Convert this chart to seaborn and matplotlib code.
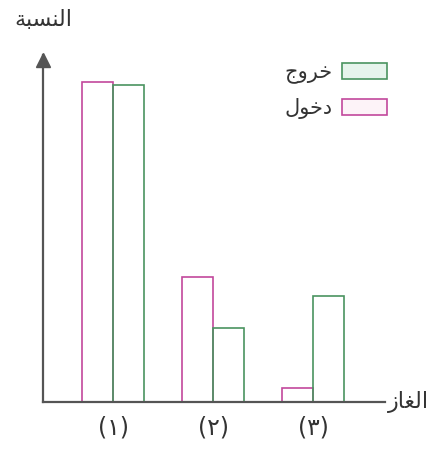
import pandas as pd
import seaborn as sns
import matplotlib.pyplot as plt

# Arabic labels written in presentation forms (matplotlib does no shaping), visual order
y_label = "\uFE94\uFE92\uFEB4\uFEE8\uFEDF\uFE8D"      # النسبة
x_label = "\uFEAF\uFE8E\uFED0\uFEDF\uFE8D"            # الغاز
series_in = "\uFEDD\uFEEE\uFEA7\uFEA9"               # دخول
series_out = "\uFE9D\uFEED\uFEAE\uFEA7"              # خروج

gases = ["(\u0661)", "(\u0662)", "(\u0663)"]
entering = [100, 39, 4.5]
leaving = [99, 23, 33]

df = pd.DataFrame({
    "gas": gases * 2,
    "value": entering + leaving,
    "series": [series_in] * 3 + [series_out] * 3,
})

magenta = "#c2489c"
green = "#4a9460"

sns.set_style("white")
plt.rcParams["font.family"] = ["DejaVu Sans"]

fig = plt.figure(figsize=(4.41, 4.57), dpi=100)
ax = fig.add_axes([43 / 441, 55 / 457, 342 / 441, 347 / 457])

sns.barplot(
    data=df, x="gas", y="value", hue="series",
    order=gases, hue_order=[series_in, series_out],
    palette=[magenta, green], fill=False, width=0.62, gap=0,
    linewidth=1.2, ax=ax, legend=True,
)

ax.set_xlim(-0.70, 2.72)
ax.set_ylim(0, 108.4)
ax.set_xlabel("")
ax.set_ylabel("")
ax.set_yticks([])
ax.tick_params(axis="x", length=0, labelsize=17, pad=10, colors="#333333")

for side in ["top", "right"]:
    ax.spines[side].set_visible(False)
for side in ["left", "bottom"]:
    ax.spines[side].set_color("#555555")
    ax.spines[side].set_linewidth(1.6)

# arrow head on the y axis
ax.plot(0, 0.985, marker="^", markersize=10, color="#555555",
        transform=ax.transAxes, clip_on=False)

ax.text(1.01, 0, x_label, transform=ax.transAxes, ha="left", va="center",
        fontsize=16, color="#333333")
fig.text(43 / 441, 1 - 20 / 457, y_label, ha="center", va="center",
         fontsize=16, color="#333333")

handles, labels = ax.get_legend_handles_labels()
leg = ax.legend(
    handles[::-1], labels[::-1], markerfirst=False, frameon=False,
    loc="upper right", bbox_to_anchor=(387 / 441, 1 - 62 / 457),
    bbox_transform=fig.transFigure, borderaxespad=0, borderpad=0,
    handlelength=2.16, handleheight=0.82, handletextpad=0.48,
    labelspacing=0.68, fontsize=15,
)
fills = ["#e6f4ec", "#fdf3f8"]
for patch, fc in zip(leg.get_patches(), fills):
    patch.set_facecolor(fc)
    patch.set_fill(True)
for t in leg.get_texts():
    t.set_color("#333333")

fig.savefig("out.png", dpi=100)
